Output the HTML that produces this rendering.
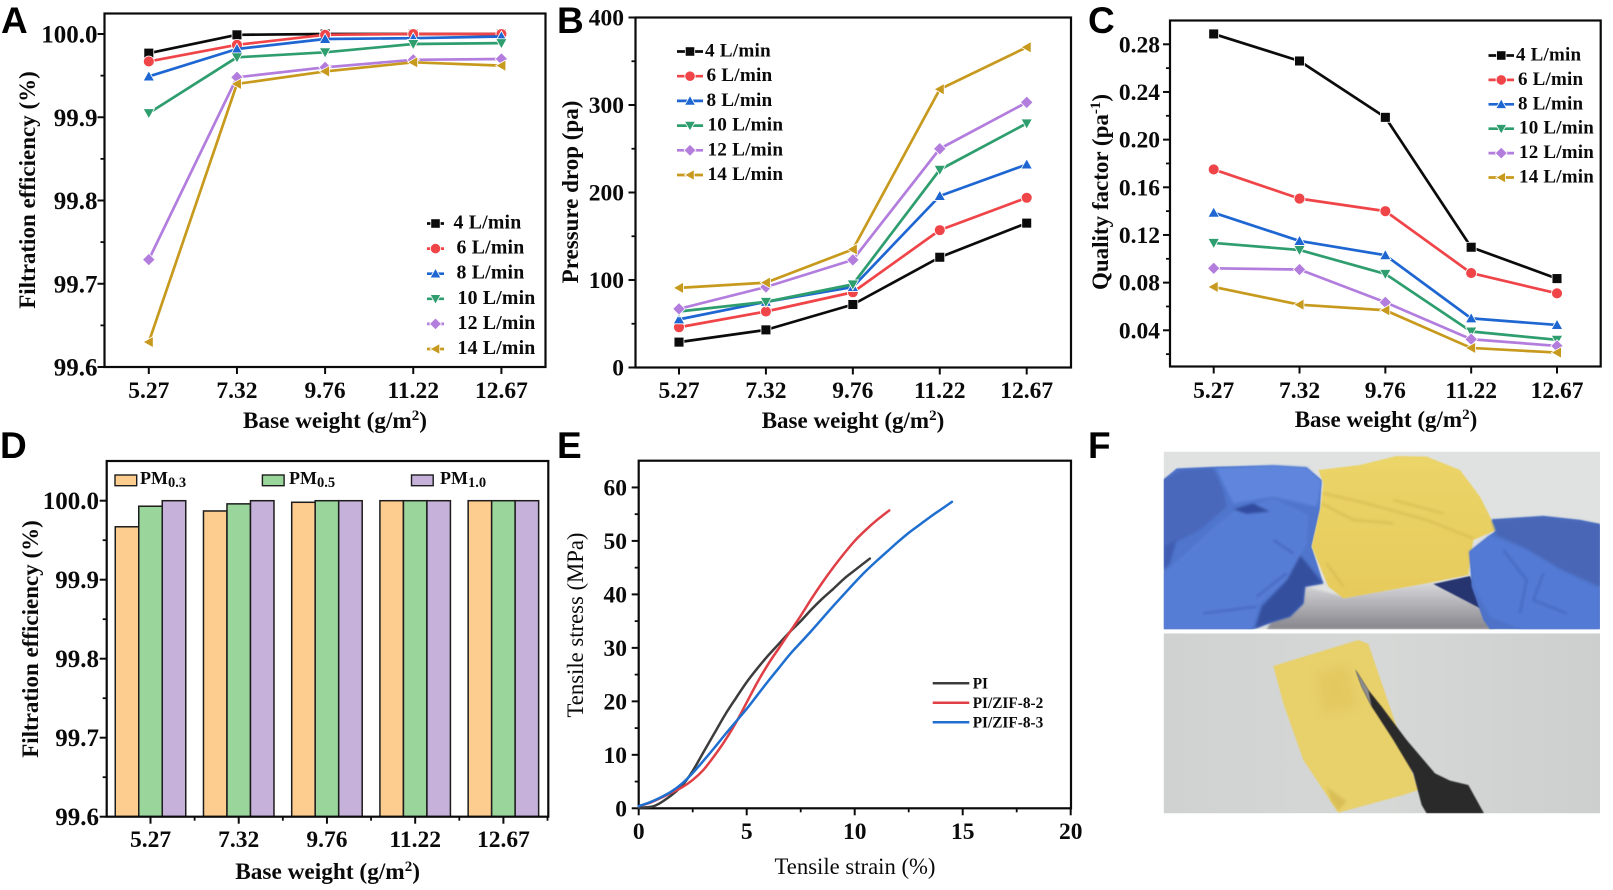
<!DOCTYPE html>
<html lang="en">
<head>
<meta charset="utf-8">
<title>Filtration performance figure</title>
<style>
html,body{margin:0;padding:0;background:#fff;width:1613px;height:890px;overflow:hidden}
svg{display:block;filter:blur(.35px)}
text{font-family:"Liberation Serif",serif;fill:#0a0a0a}
.b{font-weight:bold}
.letter{font-family:"Liberation Sans",sans-serif;font-weight:bold;font-size:37px;fill:#000}
</style>
</head>
<body>
<svg id="fig" xmlns="http://www.w3.org/2000/svg" width="1613" height="890" viewBox="0 0 1613 890">
  <defs>
    <clipPath id="clipTop"><rect x="311" y="35" width="1309" height="533"/></clipPath>
    <clipPath id="clipBot"><rect x="311" y="580" width="1309" height="540"/></clipPath>
    <linearGradient id="shadowGrad" x1="0" y1="0" x2="0" y2="1"><stop offset="0" stop-color="#dadadc"/><stop offset="1" stop-color="#85858c"/></linearGradient>
    <linearGradient id="yellowGrad" x1="0" y1="0" x2="0" y2="1"><stop offset="0" stop-color="#ebd468"/><stop offset="1" stop-color="#e6cb5c"/></linearGradient>
    <linearGradient id="bgBot" x1="0" y1="0" x2="1" y2="0"><stop offset="0" stop-color="#cfd2d1"/><stop offset=".5" stop-color="#d6d8d7"/><stop offset="1" stop-color="#cdcfcf"/></linearGradient>
    <filter id="soft" x="-5%" y="-5%" width="110%" height="110%"><feGaussianBlur stdDeviation="4"/></filter>
    <filter id="soft1" x="-5%" y="-5%" width="110%" height="110%"><feGaussianBlur stdDeviation="1.5"/></filter>
    <filter id="soft2" x="-20%" y="-20%" width="140%" height="140%"><feGaussianBlur stdDeviation="14"/></filter>
  </defs>

  <g id="photos" transform="translate(1060,440) scale(.33333)">
    <g clip-path="url(#clipTop)">
      <rect x="311" y="35" width="1309" height="533" fill="#e0e2e1"/>
      <polygon points="700,430 850,470 1120,425 1300,510 1300,568 620,568" fill="url(#shadowGrad)" filter="url(#soft)"/>
      <polygon points="311,118 350,85 470,80 640,76 740,82 785,120 780,210 755,320 790,430 735,440 730,490 690,530 640,545 580,568 311,568" fill="#5076cc" filter="url(#soft1)"/>
      <g filter="url(#soft)">
        <polygon points="720,345 790,430 735,440 730,490 690,530 640,545 585,565 605,500 680,420" fill="#34509f"/>
        <polygon points="470,85 640,76 740,82 785,125 770,200 640,170 520,190 490,130" fill="#5f86dc"/>
        <polygon points="311,120 360,90 460,85 490,150 500,200 420,270 340,310 311,320" fill="#4868bc"/>
        <polygon points="311,320 350,300 330,370 311,390" fill="#3f5db2"/>
        <polygon points="311,400 470,255 520,215 640,175 745,225 740,310 680,420 600,490 575,568 311,568" fill="#567dd6"/>
        <polygon points="520,208 580,190 630,215 560,222" fill="#304c9e"/>
        <path d="M640,300 L700,340 M590,470 L680,400 M430,520 L590,500" fill="none" stroke="#4465bd" stroke-width="6"/>
      </g>
      <polygon points="1120,432 1230,408 1275,500 1290,520" fill="#26356f" filter="url(#soft1)"/>
      <polygon points="775,90 900,75 1010,48 1100,50 1200,90 1260,170 1310,270 1240,300 1225,405 1100,430 850,475 805,440 755,320 782,200 790,130" fill="url(#yellowGrad)" filter="url(#soft1)"/>
      <g fill="none" stroke="#cdb24c" stroke-width="5" opacity=".7" filter="url(#soft)">
        <path d="M790,160 L900,185 L1100,240 L1240,295"/>
        <path d="M785,190 L880,240 L1000,250"/>
        <path d="M1000,180 L1150,220"/>
        <path d="M800,370 L850,440"/>
      </g>
      <polygon points="1295,238 1450,228 1560,240 1620,252 1620,568 1290,568 1270,540 1235,440 1228,335 1290,285 1310,270" fill="#4e72c8" filter="url(#soft1)"/>
      <g filter="url(#soft)">
        <polygon points="1295,240 1450,230 1560,242 1620,254 1620,440 1500,385 1400,325 1310,285" fill="#4a66b6"/>
        <polygon points="1228,335 1290,285 1400,330 1500,390 1620,445 1620,568 1380,568 1290,530 1240,440" fill="#527ad4"/>
        <path d="M1330,330 L1400,420 L1380,520 M1450,400 L1420,480 L1520,520" fill="none" stroke="#3e5fb8" stroke-width="6" opacity=".7"/>
      </g>
    </g>
    <g clip-path="url(#clipBot)">
      <rect x="311" y="580" width="1309" height="540" fill="url(#bgBot)"/>
      <polygon points="640,678 895,600 925,612 1075,1050 1030,1065 835,1118 730,960 670,790" fill="#e8d06a" filter="url(#soft1)"/>
      <polygon points="770,700 860,680 890,800 790,820" fill="#e1c35a" opacity=".6" filter="url(#soft2)"/>
      <polygon points="800,1040 860,1085 835,1112 815,1085" fill="#d4b750" opacity=".7" filter="url(#soft)"/>
      <polygon points="886,688 925,750 965,800 1040,900 1125,1000 1170,1022 1225,1035 1272,1120 1100,1120 1085,1095 1060,1000 1000,900 935,800 905,740" fill="#29292b" filter="url(#soft1)"/>
      <polygon points="886,688 925,750 935,800 905,740" fill="#8e8e90" filter="url(#soft1)"/>
    </g>
  </g>
</svg>

<script>
// ---------- Shared categories ----------
const baseWeights = ["5.27", "7.32", "9.76", "11.22", "12.67"];
const flowLabels = ["4 L/min", "6 L/min", "8 L/min", "10 L/min", "12 L/min", "14 L/min"];
const flowColors = ["#0b0b0b", "#ef4549", "#1e66d2", "#2f9e6f", "#b27ddd", "#c79a1e"];
const flowMarkers = ["square", "circle", "up", "down", "diamond", "left"];

// ---------- Panel A: filtration efficiency ----------
const effTicks = [99.6, 99.7, 99.8, 99.9, 100.0];
const effFlow4 = [99.977, 99.999, 100.0, 100.0, 100.0];
const effFlow6 = [99.967, 99.987, 99.999, 100.0, 100.0];
const effFlow8 = [99.949, 99.982, 99.994, 99.995, 99.997];
const effFlow10 = [99.905, 99.972, 99.978, 99.988, 99.989];
const effFlow12 = [99.729, 99.948, 99.960, 99.969, 99.970];
const effFlow14 = [99.630, 99.940, 99.955, 99.966, 99.962];

// ---------- Panel B: pressure drop ----------
const dropTicks = [0, 100, 200, 300, 400];
const dropFlow4 = [29, 43, 72, 126, 165];
const dropFlow6 = [46, 64, 86, 157, 194];
const dropFlow8 = [55, 75, 92, 196, 232];
const dropFlow10 = [64, 75, 95, 226, 279];
const dropFlow12 = [67, 92, 123, 250, 303];
const dropFlow14 = [91, 97, 135, 318, 366];

// ---------- Panel C: quality factor ----------
const qualityTicks = [0.04, 0.08, 0.12, 0.16, 0.20, 0.24, 0.28];
const qualityFlow4 = [0.2887, 0.266, 0.2187, 0.1097, 0.0834];
const qualityFlow6 = [0.175, 0.1505, 0.140, 0.088, 0.071];
const qualityFlow8 = [0.1387, 0.115, 0.103, 0.050, 0.0445];
const qualityFlow10 = [0.1133, 0.1074, 0.0873, 0.039, 0.032];
const qualityFlow12 = [0.092, 0.091, 0.0635, 0.0325, 0.0269];
const qualityFlow14 = [0.0764, 0.0615, 0.0568, 0.0252, 0.0213];

// ---------- Panel D: bars ----------
const pmLabels = ["0.3", "0.5", "1.0"];
const pmColors = ["#fdcc8f", "#9ad59c", "#c5b1d9"];
const pm03 = [99.967, 99.987, 99.998, 100.0, 100.0];
const pm05 = [99.993, 99.996, 100.0, 100.0, 100.0];
const pm10 = [100.0, 100.0, 100.0, 100.0, 100.0];

// ---------- Panel E: tensile curves ----------
const strainTicks = [0, 5, 10, 15, 20];
const stressTicks = [0, 10, 20, 30, 40, 50, 60];
const tensileLabels = ["PI", "PI/ZIF-8-2", "PI/ZIF-8-3"];
const tensileColors = ["#3c3c3c", "#df3f45", "#1f6fd0"];
const piStrain = [0, 0.7, 1.3, 2, 2.5, 3, 3.5, 4, 4.5, 5, 5.5, 6, 6.5, 7, 7.5, 8, 8.5, 9, 9.5, 10, 10.7];
const piStress = [0.1, 0.4, 1.8, 4.2, 7, 10.5, 14, 17.5, 20.6, 23.6, 26.2, 28.6, 30.8, 33, 35, 37.2, 39.2, 41, 42.9, 44.5, 46.7];
const zif2Strain = [0, 0.5, 1, 1.5, 2, 2.5, 3, 3.5, 4, 4.5, 5, 5.5, 6, 6.5, 7, 7.5, 8, 8.5, 9, 9.5, 10, 10.5, 11, 11.6];
const zif2Stress = [0.4, 1, 1.9, 2.9, 3.9, 5.3, 7.2, 9.8, 12.7, 16, 19.8, 23.6, 27, 30, 33, 36, 39.2, 42.2, 45, 47.6, 50, 52, 53.8, 55.7];
const zif3Strain = [0, 0.5, 1, 1.5, 2, 2.5, 3, 3.5, 4, 4.5, 5, 5.5, 6, 6.5, 7, 7.5, 8, 8.5, 9, 9.5, 10, 10.5, 11, 11.5, 12, 12.5, 13, 13.5, 14, 14.5];
const zif3Stress = [0.4, 1.1, 2, 3.1, 4.6, 6.6, 8.9, 11.3, 13.8, 16.2, 18.6, 21.2, 23.8, 26.3, 28.8, 31, 33.2, 35.5, 37.8, 40, 42.2, 44.3, 46.2, 48, 49.8, 51.5, 53, 54.5, 55.9, 57.3];

const SVGNS = "http://www.w3.org/2000/svg";
const root = document.getElementById("fig");

function make(tag, attrs, parent, text) {
  const n = document.createElementNS(SVGNS, tag);
  for (const k in attrs) n.setAttribute(k, attrs[k]);
  if (text !== undefined) n.textContent = text;
  (parent || root).appendChild(n);
  return n;
}
function linear(d0, d1, r0, r1) {
  return v => r0 + (v - d0) * (r1 - r0) / (d1 - d0);
}
function slug(s) {
  return String(s).toLowerCase().replace(/[^a-z0-9]+/g, "-").replace(/^-|-$/g, "");
}
function smoothPath(pts) {
  let d = "M" + pts[0][0] + "," + pts[0][1];
  for (let i = 0; i < pts.length - 1; i++) {
    const p0 = pts[Math.max(i - 1, 0)];
    const p1 = pts[i];
    const p2 = pts[i + 1];
    const p3 = pts[Math.min(i + 2, pts.length - 1)];
    const c1x = p1[0] + (p2[0] - p0[0]) / 6;
    const c1y = p1[1] + (p2[1] - p0[1]) / 6;
    const c2x = p2[0] - (p3[0] - p1[0]) / 6;
    const c2y = p2[1] - (p3[1] - p1[1]) / 6;
    d += " C" + c1x + "," + c1y + " " + c2x + "," + c2y + " " + p2[0] + "," + p2[1];
  }
  return d;
}
function appendRuns(t, runs) {
  for (const r of runs) {
    const s = make("tspan", r.attrs || {}, t, r.text);
    
    
  }
}

function drawFrame(g, f) {
  const r = make("rect", {x: f.l, y: f.t, width: f.r - f.l, height: f.b - f.t, fill: "none", stroke: "#0a0a0a", "stroke-width": 2.2}, g);
  
  
}
function drawYAxis(g, f, y, ticks, minors, fmt, labelRight, size, weight) {
  for (const v of minors) {
    const m = make("line", {x1: f.l - 4, x2: f.l, y1: y(v), y2: y(v), stroke: "#0a0a0a", "stroke-width": 1.8}, g);
    
    
  }
  for (const v of ticks) {
    const m = make("line", {x1: f.l - 7, x2: f.l, y1: y(v), y2: y(v), stroke: "#0a0a0a", "stroke-width": 2}, g);
    
    
    const t = make("text", {x: labelRight, y: y(v) + size * 0.34, "text-anchor": "end", "font-size": size, "font-weight": weight}, g, fmt(v));
    
    
  }
}
function drawCatAxis(g, f, x, labels, labelY, minorsBetween) {
  labels.forEach((lab, i) => {
    const m = make("line", {x1: x(i), x2: x(i), y1: f.b, y2: f.b + 7, stroke: "#0a0a0a", "stroke-width": 2}, g);
    
    
    const t = make("text", {x: x(i), y: labelY, "text-anchor": "middle", "font-size": 23.5, "font-weight": "bold"}, g, lab);
    
    
    if (minorsBetween && i < labels.length) {
      const n = make("line", {x1: x(i + 0.5), x2: x(i + 0.5), y1: f.b, y2: f.b + 4, stroke: "#0a0a0a", "stroke-width": 1.8}, g);
      
      
    }
  });
}
function drawXTitle(g, cx, y, runs, size, weight, name) {
  const t = make("text", {x: cx, y: y, "text-anchor": "middle", "font-size": size, "font-weight": weight}, g);
  
  
  appendRuns(t, runs);
}
function drawYTitle(g, cx, cy, runs, size, weight) {
  const t = make("text", {transform: "translate(" + cx + "," + cy + ") rotate(-90)", "text-anchor": "middle", "font-size": size, "font-weight": weight}, g);
  
  
  appendRuns(t, runs);
}
function marker(g, kind, cx, cy, s, color) {
  const o = {fill: color, stroke: "#ffffff", "stroke-width": 0.8};
  let n;
  if (kind === "square") n = make("rect", Object.assign({x: cx - s * .47, y: cy - s * .47, width: s * .94, height: s * .94}, o), g);
  else if (kind === "circle") n = make("circle", Object.assign({cx: cx, cy: cy, r: s * .52}, o), g);
  else {
    const r = s * .54;
    let pts;
    if (kind === "up") pts = [[cx, cy - r], [cx + r, cy + r * .78], [cx - r, cy + r * .78]];
    if (kind === "down") pts = [[cx, cy + r], [cx + r, cy - r * .78], [cx - r, cy - r * .78]];
    if (kind === "left") pts = [[cx - r, cy], [cx + r * .78, cy - r], [cx + r * .78, cy + r]];
    if (kind === "diamond") pts = [[cx, cy - r * 1.1], [cx + r * 1.1, cy], [cx, cy + r * 1.1], [cx - r * 1.1, cy]];
    n = make("polygon", Object.assign({points: pts.map(p => p.join(",")).join(" ")}, o), g);
  }
  return n;
}
function drawSeries(g, seriesName, values, x, y, color, kind, size) {
  const sg = make("g", {}, g);
  
  
  const path = make("polyline", {points: values.map((v, i) => x(i) + "," + y(v)).join(" "), fill: "none", stroke: color, "stroke-width": 2.7, "stroke-linejoin": "round"}, sg);
  
  
  values.forEach((v, i) => {
    const m = marker(sg, kind, x(i), y(v), size, color);
    
    
  });
}
function drawFlowLegend(g, lx0, lx1, textX, textX4, y0, dy, size) {
  flowLabels.forEach((lab, i) => {
    const e = make("g", {}, g);
    
    
    const y = y0 + i * dy;
    const l = make("line", {x1: lx0, x2: lx1, y1: y, y2: y, stroke: flowColors[i], "stroke-width": 2.7}, e);
    
    
    const m = marker(e, flowMarkers[i], (lx0 + lx1) / 2, y, 10, flowColors[i]);
    
    
    const t = make("text", {x: i === 0 ? textX4 : (i < 3 ? textX : textX + 1), y: y + 5, "font-size": size, "font-weight": "bold", "letter-spacing": "0.2"}, e, lab);
    
    
  });
}
function panelLetter(txt, x, y, name) {
  const t = make("text", {x: x, y: y, class: "letter"}, root, txt);
  
  
}
const baseTitle = [{text: "Base weight (g/m"}, {text: "2", attrs: {dy: "-8", "font-size": 15}}, {text: ")", attrs: {dy: "8"}}];

// ---------- Panel A ----------
(function () {
  const g = make("g", {});
  
  
  const f = {l: 104.5, r: 545.5, t: 13.5, b: 367};
  const x = linear(0, 4, 148.8, 501.4);
  const y = linear(99.6, 100, 367, 34);
  const seriesList = [effFlow4, effFlow6, effFlow8, effFlow10, effFlow12, effFlow14];
  drawFrame(g, f);
  drawYAxis(g, f, y, effTicks, [99.65, 99.75, 99.85, 99.95], v => v.toFixed(1), 97.5, 25, "bold");
  drawCatAxis(g, f, x, baseWeights, 398, false);
  seriesList.forEach((vals, i) => drawSeries(g, "series-" + slug(flowLabels[i]), vals, x, y, flowColors[i], flowMarkers[i], 10.5));
  drawFlowLegend(g, 427, 444, 456.5, 453.5, 223.5, 25.1, 19.8);
  drawXTitle(g, 335, 428, baseTitle, 23.2, "bold", "x-axis-title");
  drawYTitle(g, 35, 190, [{text: "Filtration efficiency (%)"}], 23, "bold");
  panelLetter("A", 1, 33, "panel-label-a");
})();

// ---------- Panel B ----------
(function () {
  const g = make("g", {});
  
  
  const f = {l: 635.5, r: 1071, t: 17.5, b: 367.5};
  const x = linear(0, 4, 679, 1026.7);
  const y = linear(0, 400, 367.5, 17.5);
  const seriesList = [dropFlow4, dropFlow6, dropFlow8, dropFlow10, dropFlow12, dropFlow14];
  drawFrame(g, f);
  drawYAxis(g, f, y, dropTicks, [50, 150, 250, 350], v => String(v), 624, 23.5, "bold");
  drawCatAxis(g, f, x, baseWeights, 398, false);
  seriesList.forEach((vals, i) => drawSeries(g, "series-" + slug(flowLabels[i]), vals, x, y, flowColors[i], flowMarkers[i], 10.5));
  drawFlowLegend(g, 677, 703, 706.5, 705, 51.5, 24.7, 19.2);
  drawXTitle(g, 853, 428, baseTitle, 23, "bold", "x-axis-title");
  drawYTitle(g, 578, 192, [{text: "Pressure drop (pa)"}], 23, "bold");
  panelLetter("B", 557, 33, "panel-label-b");
})();

// ---------- Panel C ----------
(function () {
  const g = make("g", {});
  
  
  const f = {l: 1170, r: 1600.7, t: 20.5, b: 366.5};
  const x = linear(0, 4, 1213.7, 1557);
  const y = linear(0.04, 0.28, 330.3, 44.3);
  const seriesList = [qualityFlow4, qualityFlow6, qualityFlow8, qualityFlow10, qualityFlow12, qualityFlow14];
  drawFrame(g, f);
  drawYAxis(g, f, y, qualityTicks, [0.02, 0.06, 0.10, 0.14, 0.18, 0.22, 0.26], v => v.toFixed(2), 1160, 23.5, "bold");
  drawCatAxis(g, f, x, baseWeights, 398, false);
  seriesList.forEach((vals, i) => drawSeries(g, "series-" + slug(flowLabels[i]), vals, x, y, flowColors[i], flowMarkers[i], 10.5));
  drawFlowLegend(g, 1488.5, 1514, 1518, 1516, 55.5, 24.4, 19);
  drawXTitle(g, 1386, 427, baseTitle, 23, "bold", "x-axis-title");
  drawYTitle(g, 1108, 192, [{text: "Quality factor (pa"}, {text: "-1", attrs: {dy: "-8", "font-size": 15}}, {text: ")", attrs: {dy: "8"}}], 23, "bold");
  panelLetter("C", 1088, 33, "panel-label-c");
})();

// ---------- Panel D ----------
(function () {
  const g = make("g", {});
  
  
  const f = {l: 106.7, r: 548.3, t: 461, b: 816.7};
  const x = linear(0, 4, 150.5, 503.4);
  const y = linear(99.6, 100, 816.7, 500.7);
  const barW = 23.5;
  const groups = [pm03, pm05, pm10];
  groups.forEach((vals, s) => {
    vals.forEach((v, i) => {
      const r = make("rect", {x: x(i) + (s - 1.5) * barW, y: y(v), width: barW, height: f.b - y(v), fill: pmColors[s], stroke: "#1c1c1c", "stroke-width": 1.5}, g);
      
      
    });
  });
  drawFrame(g, f);
  drawYAxis(g, f, y, effTicks, [99.65, 99.75, 99.85, 99.95], v => v.toFixed(1), 99, 25, "bold");
  drawCatAxis(g, f, x, baseWeights, 847, true);
  const legendBox = [115, 262.4, 411.5];
  const legendText = [140, 289, 440];
  pmLabels.forEach((lab, i) => {
    const e = make("g", {}, g);
    
    
    const b = make("rect", {x: legendBox[i], y: 475, width: 21.7, height: 10.7, fill: pmColors[i], stroke: "#1c1c1c", "stroke-width": 1.4}, e);
    
    
    const t = make("text", {x: legendText[i], y: 484, "font-size": 18, "font-weight": "bold"}, e);
    
    
    appendRuns(t, [{text: "PM"}, {text: lab, attrs: {dy: "3", "font-size": 14.5}}]);
  });
  drawXTitle(g, 327.6, 879, baseTitle, 23.3, "bold", "x-axis-title");
  drawYTitle(g, 38, 639, [{text: "Filtration efficiency (%)"}], 23, "bold");
  panelLetter("D", 0, 458, "panel-label-d");
})();

// ---------- Panel E ----------
(function () {
  const g = make("g", {});
  
  
  const f = {l: 638.7, r: 1071, t: 460.7, b: 808.3};
  const x = linear(0, 20, 638.7, 1070.7);
  const y = linear(0, 65, 808.3, 460.7);
  const curves = [[piStrain, piStress], [zif2Strain, zif2Stress], [zif3Strain, zif3Stress]];
  drawFrame(g, f);
  drawYAxis(g, f, y, stressTicks, [5, 15, 25, 35, 45, 55], v => String(v), 627, 23.5, "bold");
  strainTicks.forEach(v => {
    const m = make("line", {x1: x(v), x2: x(v), y1: f.b, y2: f.b + 7, stroke: "#0a0a0a", "stroke-width": 2}, g);
    
    
    const t = make("text", {x: x(v), y: 839, "text-anchor": "middle", "font-size": 23.5, "font-weight": "bold"}, g, String(v));
    
    
    if (v < 20) {
      const n = make("line", {x1: x(v + 2.5), x2: x(v + 2.5), y1: f.b, y2: f.b + 4, stroke: "#0a0a0a", "stroke-width": 1.8}, g);
      
      
    }
  });
  curves.forEach((c, i) => {
    const p = make("path", {d: smoothPath(c[0].map((s, k) => [x(s), y(c[1][k])])), fill: "none", stroke: tensileColors[i], "stroke-width": 2.5, "stroke-linejoin": "round", "stroke-linecap": "round"}, g);
    
    
  });
  tensileLabels.forEach((lab, i) => {
    const e = make("g", {}, g);
    
    
    const ly = 683.3 + i * 19.5;
    const l = make("line", {x1: 932.7, x2: 969.3, y1: ly, y2: ly, stroke: tensileColors[i], "stroke-width": 2.5}, e);
    
    
    const t = make("text", {x: 972.7, y: ly + 5, "font-size": 15.3, "font-weight": "bold"}, e, lab);
    
    
  });
  drawXTitle(g, 855, 874, [{text: "Tensile strain (%)"}], 22.7, "normal", "x-axis-title");
  drawYTitle(g, 583, 625, [{text: "Tensile stress (MPa)"}], 22.7, "normal");
  panelLetter("E", 557, 458, "panel-label-e");
})();

panelLetter("F", 1088, 458, "panel-label-f");
</script>
</body>
</html>
